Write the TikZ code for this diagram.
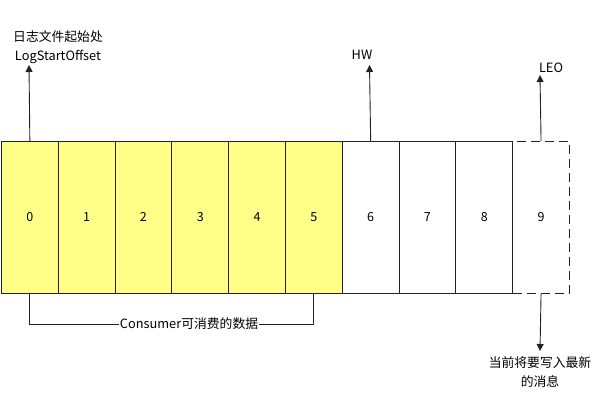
\documentclass[tikz,border=0pt]{standalone}
\usepackage{fontspec}
\setmainfont{Noto Sans CJK SC}
\usetikzlibrary{arrows.meta}
\definecolor{cellyellow}{HTML}{FFFF88}
\definecolor{linegray}{HTML}{222222}
\tikzset{
  cell/.style={draw=linegray, line width=0.9pt, minimum width=56.8pt, minimum height=152pt, inner sep=0pt, anchor=north west, font=\fontsize{12.5pt}{15pt}\selectfont},
  consumed/.style={cell, fill=cellyellow},
  pending/.style={cell, dashed, dash pattern=on 9pt off 5pt},
  ptr/.style={draw=linegray, line width=0.9pt, -{Triangle[length=7pt,width=7pt]}},
  lbl/.style={font=\fontsize{12.8pt}{19.5pt}\selectfont, inner sep=0pt, align=center, text=black}
}
\begin{document}
\begin{tikzpicture}[x=1pt,y=-1pt]
\useasboundingbox (0,0) rectangle (601,411);
\foreach \i in {0,...,5} {
  \node[consumed] (c\i) at ({1+56.8*\i},141) {\i};
}
\foreach \i in {6,7,8} {
  \node[cell] (c\i) at ({1+56.8*\i},141) {\i};
}
\node[pending] (c9) at ({1+56.8*9},141) {9};
% top labels
\node[lbl] (lso) at (58,47) {日志文件起始处\\LogStartOffset};
\node[lbl] (hw) at (362,55) {HW};
\node[lbl] (leo) at (551,68) {LEO};
\coordinate (lsotip) at (29,65);
\coordinate (hwtip) at (369.5,65);
\coordinate (leotip) at (540,75);
\draw[ptr] (c0.north) -- (lsotip);
\draw[ptr] (c6.north) -- (hwtip);
\draw[ptr] (c9.north) -- (leotip);
% bottom label
\node[lbl] (next) at (540,372) {当前将要写入最新\\的消息};
\coordinate (nexttip) at (540,351);
\draw[ptr] (c9.south) -- (nexttip);
% consumer bracket
\coordinate (b0) at (c0.south |- 0,324);
\coordinate (b5) at (c5.south |- 0,324);
\draw[draw=linegray, line width=0.9pt] (c0.south) -- (b0) -- (b5) -- (c5.south);
\node[lbl, fill=white, inner xsep=1pt, inner ysep=2pt] (cons) at (189,324) {Consumer可消费的数据};
\end{tikzpicture}
\end{document}
